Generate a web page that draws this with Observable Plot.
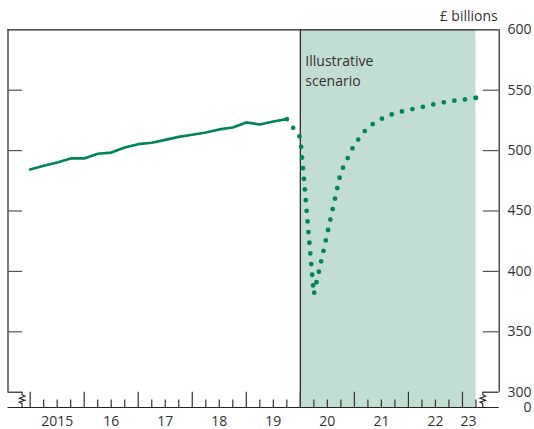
<!DOCTYPE html>
<html>
<head>
<meta charset="utf-8">
<script src="https://cdn.jsdelivr.net/npm/d3@7"></script>
<script src="https://cdn.jsdelivr.net/npm/@observablehq/plot@0.6"></script>
<style>
  html, body { margin: 0; padding: 0; background: #fff; }
</style>
</head>
<body>
<div id="chart"></div>
<script>
// ---- Data ----
const histQuarters = ["2015 Q1","2015 Q2","2015 Q3","2015 Q4","2016 Q1","2016 Q2","2016 Q3","2016 Q4",
  "2017 Q1","2017 Q2","2017 Q3","2017 Q4","2018 Q1","2018 Q2","2018 Q3","2018 Q4",
  "2019 Q1","2019 Q2","2019 Q3","2019 Q4"];
const histValues = [484.4, 487.4, 490.2, 493.5, 493.5, 497.4, 498.4, 502.6,
  505.3, 506.5, 508.9, 511.4, 513.1, 515.0, 517.5, 519.1,
  523.3, 521.6, 524.1, 526.0];

const scenQuarters = ["2019 Q4","2020 Q1","2020 Q2","2020 Q3","2020 Q4","2021 Q1","2021 Q2","2021 Q3",
  "2021 Q4","2022 Q1","2022 Q2","2022 Q3","2022 Q4","2023 Q1","2023 Q2"];
const scenValues = [526.0, 510.8, 381.0, 431.6, 482.3, 505.0, 519.5, 526.2,
  531.1, 533.6, 536.1, 538.6, 540.8, 542.1, 543.7];

const scenarioSpan = ["2020 Q1", "2023 Q2"];
const yTickValues = [300, 350, 400, 450, 500, 550, 600];
const xTickLabels = ["2015","16","17","18","19","20","21","22","23"];
const xLabelPositions = [2015.5, 2016.5, 2017.5, 2018.5, 2019.5, 2020.5, 2021.5, 2022.5, 2023.11];
const yearStarts = [2015, 2016, 2017, 2018, 2019, 2020, 2021, 2022, 2023];
const scenarioLabel = "Illustrative\nscenario";
const unitLabel = "£ billions";
const zeroLabel = "0";

// ---- helpers ----
const q = s => { const [yy, qq] = s.split(" Q"); return +yy + (+qq - 1) / 4; };
const hist = histQuarters.map((d, i) => ({t: q(d), v: histValues[i]}));
const scen = scenQuarters.map((d, i) => ({t: q(d), v: scenValues[i]}));
const shade = [{x1: q(scenarioSpan[0]), x2: q(scenarioSpan[1])}];
const xLabels = xLabelPositions.map((t, i) => ({t, label: xTickLabels[i]}));

const xMin = 2014.59, xMax = 2023.68;          // frame extent
const breakL = 2014.86, breakR = 2023.385;     // axis-break positions
const minorTicks = d3.range(2015.25, 2023.3, 0.25).filter(d => Math.abs(d - Math.round(d)) > 0.01);

const green = "#00845a";
const shadeColor = "#c2ddd1";
const frameColor = "#222";
const gap = 15.3; // px between 300 line and 0 baseline

const plot = Plot.plot({
  width: 534,
  height: 429,
  marginLeft: 7.5,
  marginRight: 35.3,
  marginTop: 29.3,
  marginBottom: 37.3,
  x: {domain: [xMin, xMax], axis: null},
  y: {domain: [300, 600], axis: null},
  style: {fontFamily: "'Open Sans', sans-serif", fontSize: "14px", color: "#333", background: "#fff"},
  marks: [
    Plot.rect(shade, {x1: "x1", x2: "x2", y1: 300, y2: 600, fill: shadeColor, insetBottom: -gap}),
    // frame
    Plot.ruleY([600], {stroke: frameColor, strokeWidth: 1.2}),
    Plot.ruleX([xMin, xMax], {stroke: frameColor, strokeWidth: 1.2}),
    Plot.ruleX([q(scenarioSpan[0])], {stroke: frameColor, strokeWidth: 1.2, insetBottom: -gap}),
    Plot.ruleY([300], {dy: gap, stroke: frameColor, strokeWidth: 1.2}),
    Plot.ruleY([300], {x1: xMin, x2: breakL, stroke: frameColor, strokeWidth: 1.2}),
    Plot.ruleY([300], {x1: breakR, x2: xMax, stroke: frameColor, strokeWidth: 1.2}),
    // inward y ticks
    Plot.ruleY(yTickValues.slice(1, 6), {x1: xMin, x2: breakL, stroke: "#555", strokeWidth: 1.2}),
    Plot.ruleY(yTickValues.slice(1, 6), {x1: breakR, x2: xMax, stroke: "#555", strokeWidth: 1.2}),
    // x ticks
    Plot.ruleX(yearStarts, {y1: 300, y2: 300, insetBottom: -gap, stroke: "#333", strokeWidth: 1.2}),
    Plot.ruleX(minorTicks, {y1: 300, y2: 300, insetTop: 7.8, insetBottom: -gap, stroke: "#333", strokeWidth: 1.2}),
    // labels
    Plot.text(yTickValues, {x: xMax, y: d => d, dx: 32.3, textAnchor: "end", text: d => String(d), fill: "#333"}),
    Plot.text([zeroLabel], {x: xMax, y: 300, dy: gap + 0.5, dx: 32.3, textAnchor: "end", text: d => d, fill: "#333"}),
    Plot.text(xLabels, {x: "t", y: 300, dy: 29.3, text: "label", fill: "#333"}),
    Plot.text([unitLabel], {x: xMax, y: 600, dy: -13.5, dx: -1.5, textAnchor: "end", text: d => d, fill: "#333"}),
    Plot.text([scenarioLabel], {x: q(scenarioSpan[0]), y: 600, dx: 5, dy: 40, textAnchor: "start", lineAnchor: "middle", lineHeight: 1.38, text: d => d, fill: "#333"}),
    // data
    Plot.line(hist, {x: "t", y: "v", stroke: green, strokeWidth: 2.7, strokeLinejoin: "round"}),
    Plot.line(scen, {x: "t", y: "v", stroke: green, strokeWidth: 4.8, strokeDasharray: "0 10.7", strokeLinecap: "round"}),
    Plot.dot(scen.slice(-1), {x: "t", y: "v", r: 2.4, fill: green})
  ]
});

// axis-break zigzags
const xs = plot.scale("x"), ys = plot.scale("y");
const y0 = ys.apply(300);
const svg = d3.select(plot);
for (const b of [breakL, breakR]) {
  const bx = xs.apply(b);
  const p = `M${bx},${y0} V${y0 + 3} L${bx + 2.8},${y0 + 4.5} L${bx - 2.8},${y0 + 6.5} L${bx + 2.8},${y0 + 8.5} L${bx - 2.8},${y0 + 10.5} L${bx},${y0 + 12} V${y0 + gap}`;
  svg.append("path").attr("d", p).attr("fill", "none").attr("stroke", frameColor).attr("stroke-width", 1.1);
}

document.getElementById("chart").appendChild(plot);
</script>
</body>
</html>
